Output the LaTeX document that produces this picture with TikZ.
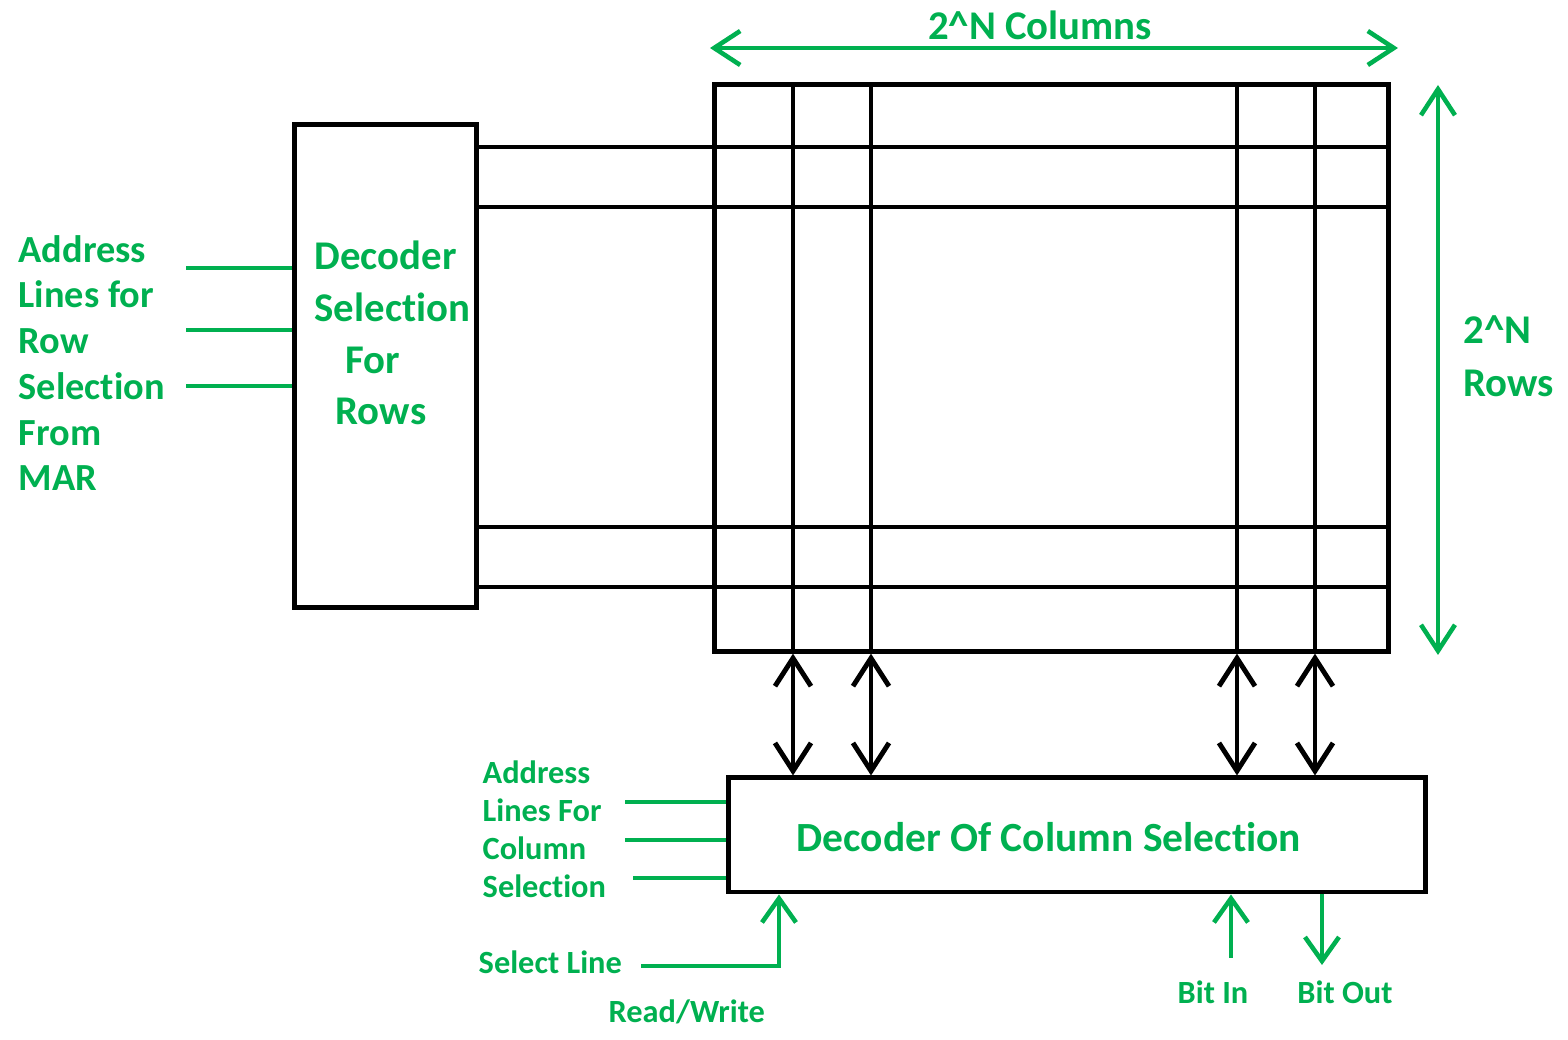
\documentclass[tikz,border=0pt]{standalone}
\usepackage{fontspec}
\setmainfont{Carlito}[Ligatures={NoCommon,NoContextual}]
\usetikzlibrary{positioning,arrows.meta}
\definecolor{mgreen}{RGB}{0,176,80}
\tikzset{
  block/.style={draw,line width=1.4pt,inner sep=0pt},
  wire/.style={line width=1.4pt},
  biarrow/.style={wire,{Straight Barb[length=2.8mm,width=3.6mm]}-{Straight Barb[length=2.8mm,width=3.6mm]}},
  gline/.style={mgreen,line width=1.3pt},
  garrow/.style={gline,-{Straight Barb[length=2.4mm,width=3.4mm]}},
  gdim/.style={gline,{Straight Barb[length=2.6mm,width=3.4mm]}-{Straight Barb[length=2.6mm,width=3.4mm]}},
  bigtext/.style={text=mgreen,inner sep=0pt,font=\fontsize{11.6}{14.7}\selectfont\bfseries},
  addrtext/.style={text=mgreen,inner sep=0pt,font=\fontsize{10.9}{13}\selectfont\bfseries},
  smalltext/.style={text=mgreen,inner sep=0pt,font=\fontsize{9.2}{10.8}\selectfont\bfseries},
}

\begin{document}
\begin{tikzpicture}[x=0.01cm,y=-0.01cm]
  \useasboundingbox (0,0) rectangle (1568,1040);
  % decoders and cell array
  \node[block,minimum width=1.81cm,minimum height=4.82cm] (rowdec) at (385.5,366) {};
  \node[block,minimum width=6.73cm,minimum height=5.66cm] (array) at (1051.5,368) {};
  \node[block,minimum width=6.96cm,minimum height=1.14cm] (coldec) at (1077,835) {};
  \node[bigtext,align=left,anchor=west] (rowdectext) at (314,333)
        {Decoder\\Selection\\\hspace*{0.31cm}For\\\hspace*{0.21cm}Rows};
  \node[bigtext,font=\fontsize{11.8}{14}\selectfont\bfseries] (coldectext) at (1049,837)
        {Decoder Of Column Selection};

  % row lines
  \foreach \y in {147,207,527,587}
    \draw[wire] (rowdec.east |- 0,\y) -- (array.east |- 0,\y);
  % column lines down to the column decoder
  \foreach \x in {793,871,1237,1315} {
    \draw[wire] (array.north -| \x,0) -- (array.south -| \x,0);
    \draw[biarrow] (array.south -| \x,0) -- (coldec.north -| \x,0);
  }

  % row address inputs
  \node[addrtext,align=left,anchor=west] (rowaddr) at (18,363)
        {Address\\Lines for\\Row\\Selection\\From\\MAR};
  \foreach \y [count=\i] in {268,330,386} {
    \coordinate (rowin\i) at (186,\y);
    \draw[gline] (rowin\i) -- (rowin\i -| rowdec.west);
  }

  % column address inputs
  \node[smalltext,align=left,anchor=west] (coladdr) at (482,829)
        {Address\\Lines For\\Column\\Selection};
  \foreach \y/\s [count=\i] in {802/625,840/625,878/633} {
    \coordinate (colin\i) at (\s,\y);
    \draw[gline] (colin\i) -- (colin\i -| coldec.west);
  }

  % select line
  \node[smalltext,anchor=west] (sellbl) at (478,962) {Select Line};
  \node[smalltext,anchor=west] (rwlbl) at (608,1012) {Read/Write};
  \coordinate (selin) at (641,966);
  \draw[garrow] (selin) -| (coldec.south -| 779,0);

  % bit in / bit out
  \coordinate (bitin) at (1231,958);
  \coordinate (bitout) at (1322,965);
  \draw[garrow] (bitin) -- (bitin |- coldec.south);
  \draw[garrow] (bitout |- coldec.south) -- (bitout);
  \node[smalltext] (bitinlbl) at (1213,992) {Bit In};
  \node[smalltext] (bitoutlbl) at (1345,992) {Bit Out};

  % size arrows
  \coordinate (colL) at (710,48);
  \coordinate (colR) at (1398,48);
  \draw[gdim] (colL) -- (colR);
  \node[bigtext] (collbl) at (1040,25) {2\textasciicircum N Columns};
  \coordinate (rowT) at (1438,85);
  \coordinate (rowB) at (1438,655);
  \draw[gdim] (rowT) -- (rowB);
  \node[bigtext,align=left,anchor=west,font=\fontsize{11.6}{15}\selectfont\bfseries]
        (rowlbl) at (1463,356) {2\textasciicircum N\\Rows};
\end{tikzpicture}
\end{document}
